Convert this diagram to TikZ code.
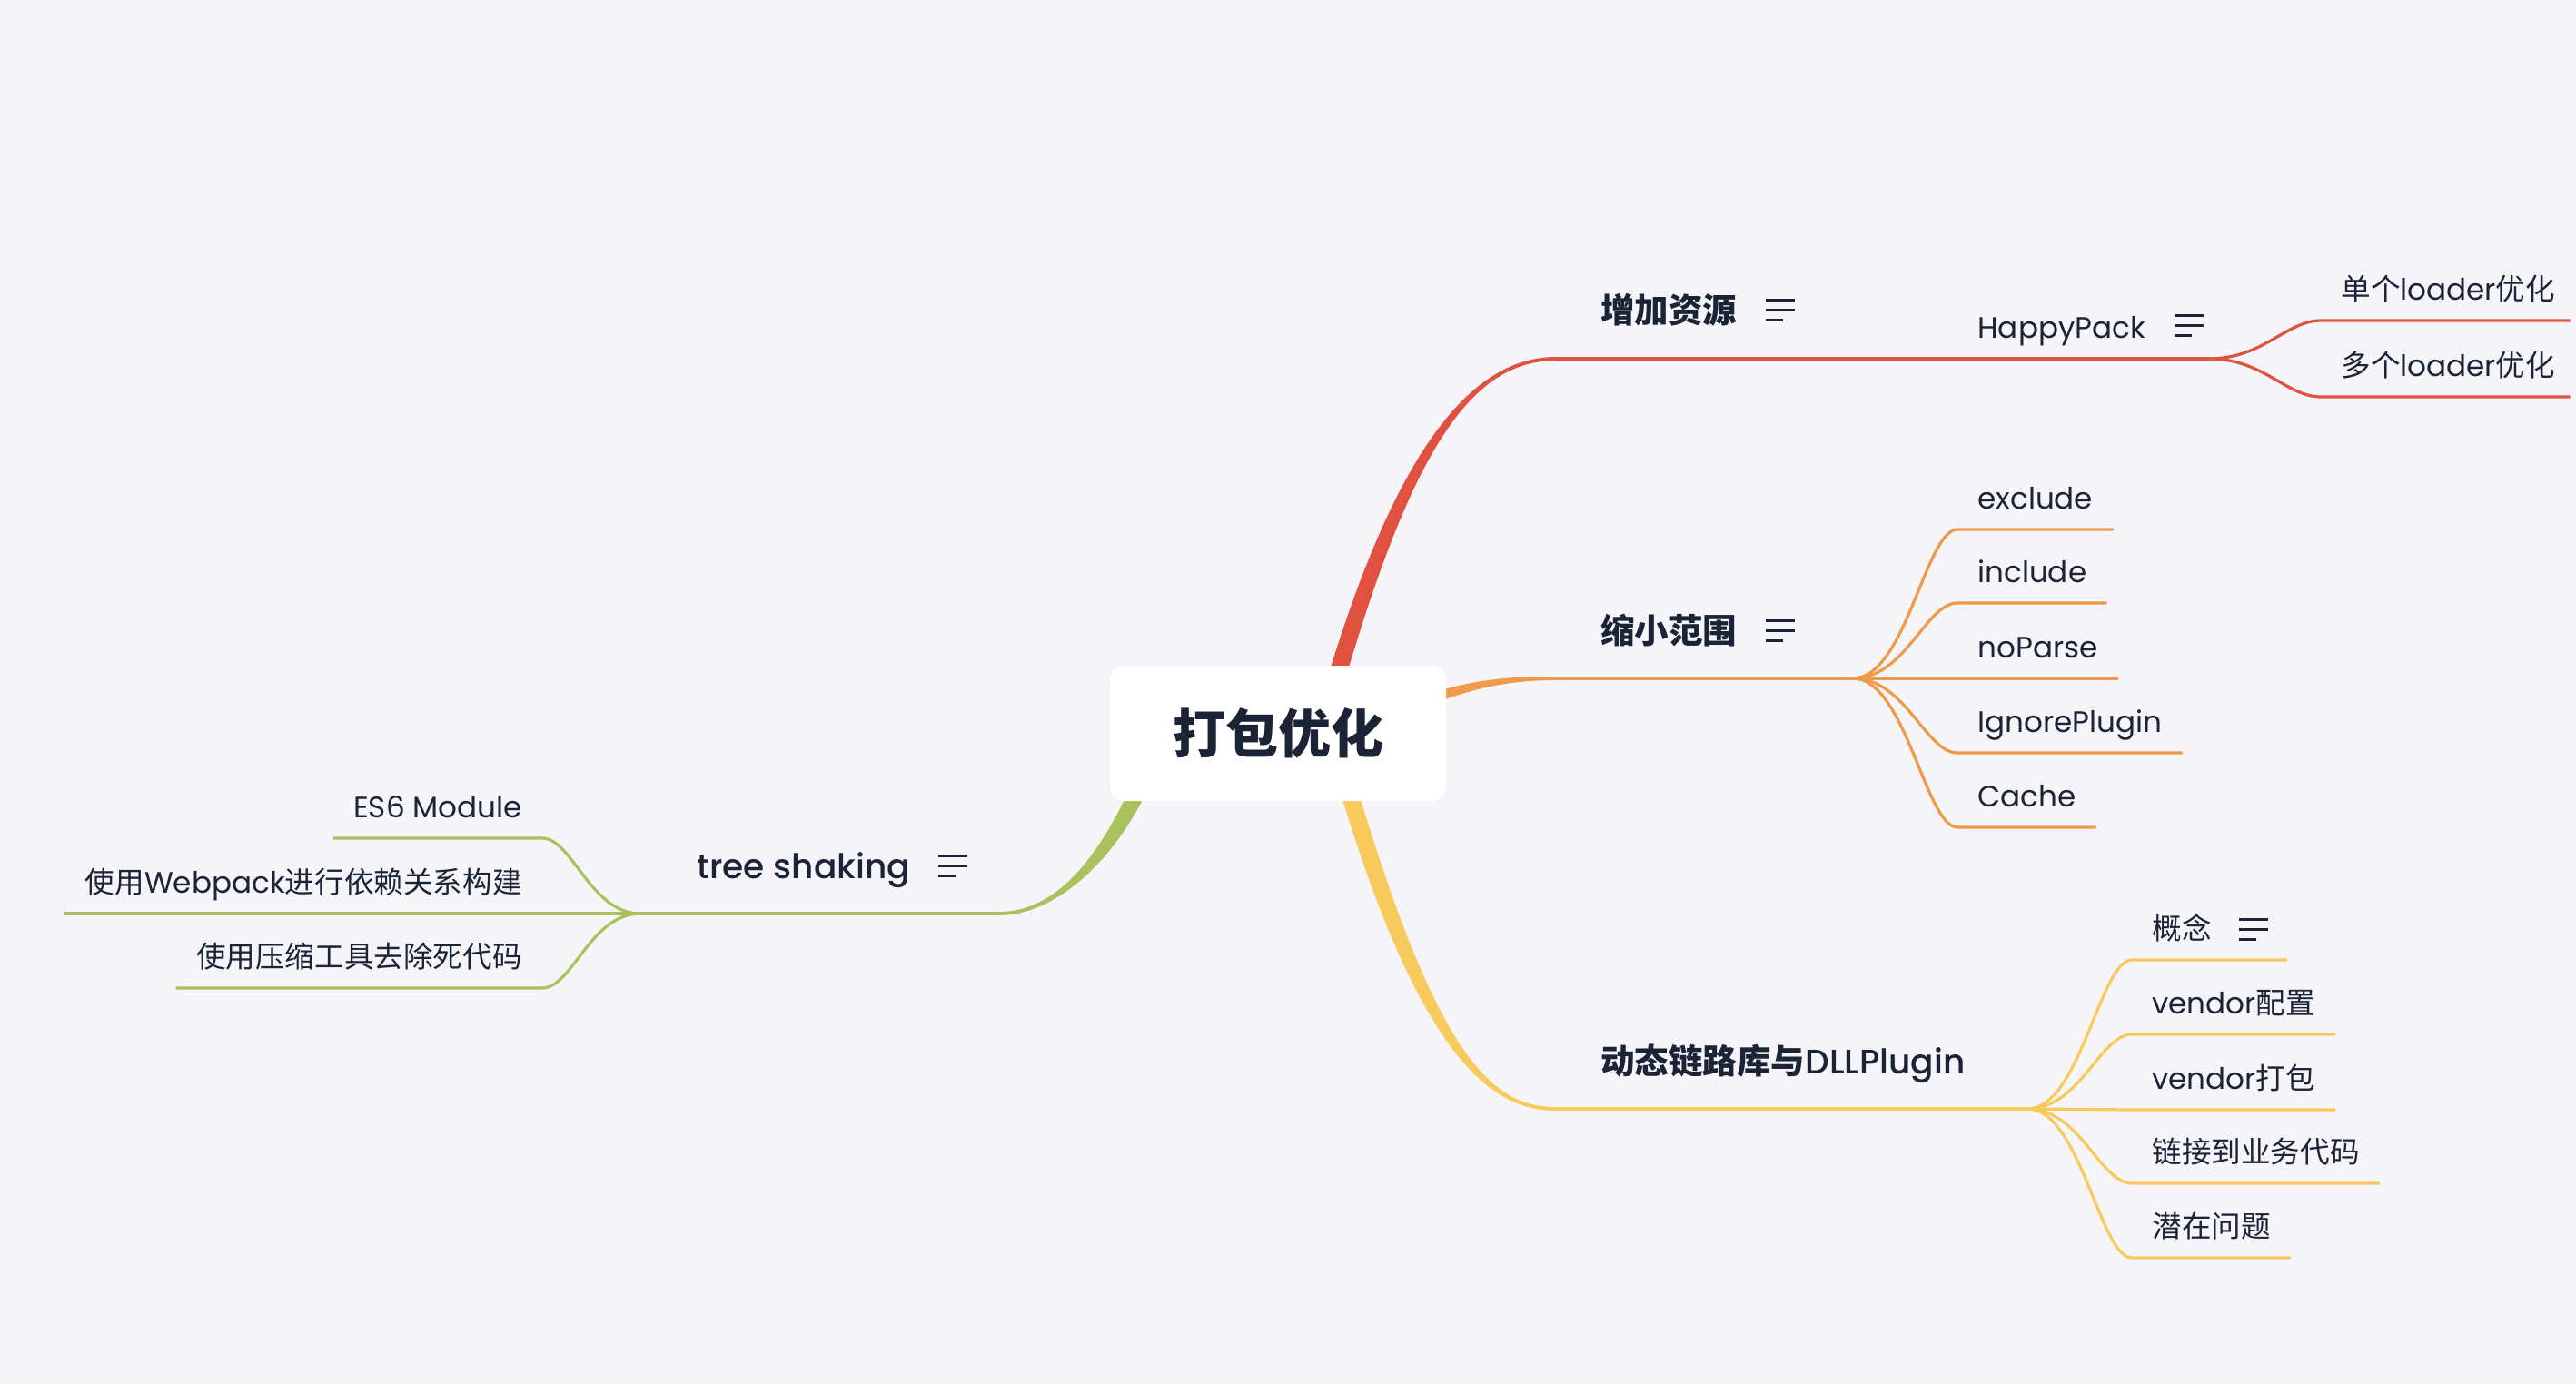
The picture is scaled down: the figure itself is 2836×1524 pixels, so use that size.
\documentclass[tikz,border=0pt]{standalone}
\usepackage{fontspec}
\setmainfont{Poppins}[BoldFont={Poppins Medium}]
\newfontfamily\cjkfont{Noto Sans CJK SC}
\newfontfamily\latfont{Poppins}[BoldFont={Poppins Medium}]
% switch to the CJK face for ideographs, back to Poppins for the rest
\newcount\cjkcode
\cjkcode="4E00
\loop \XeTeXcharclass\cjkcode=1 \advance\cjkcode by 1 \ifnum\cjkcode<"A000 \repeat
\XeTeXinterchartokenstate=1
\XeTeXinterchartoks 0 1 = {\cjkfont}
\XeTeXinterchartoks 4095 1 = {\cjkfont}
\XeTeXinterchartoks 1 0 = {\latfont}
\XeTeXinterchartoks 1 4095 = {\latfont}
\usepackage{tikz}
\usetikzlibrary{calc,backgrounds}
\pgfdeclarelayer{canvas}
\pgfsetlayers{canvas,background,main}
\definecolor{canvasgray}{HTML}{F5F5F9}
\definecolor{inkdark}{HTML}{1B2336}
\definecolor{brred}{HTML}{E0523F}
\definecolor{brorange}{HTML}{EE9A47}
\definecolor{bryellow}{HTML}{F7CA5B}
\definecolor{brgreen}{HTML}{A9C25D}

\tikzset{
  topic/.style={font=\fontsize{29pt}{34pt}\selectfont\bfseries, text=inkdark, fill=white,
    rounded corners=7.5pt, minimum width=185pt, minimum height=74.5pt},
  maintopic/.style={font=\fontsize{18.75pt}{22pt}\selectfont\bfseries, text=inkdark,
    inner sep=0pt, anchor=base west},
  midtopic/.style={font=\fontsize{16.3pt}{20pt}\selectfont, text=inkdark,
    inner sep=0pt, anchor=base west},
  leaf/.style={font=\fontsize{16.3pt}{20pt}\selectfont, text=inkdark, inner xsep=11pt,
    inner ysep=0pt, text height=12pt, text depth=11pt, anchor=south west},
  trunk/.style={line width=2pt},
  twig/.style={line width=1.6pt},
  noteicon/.pic={
    \draw[inkdark, line width=1.5pt] (0,0) -- (32,0) (0,11) -- (32,11) (0,22) -- (19,22);
  }
}

\begin{document}
\begin{tikzpicture}[x=0.5pt,y=-0.5pt]
  \useasboundingbox (0,0) rectangle (2836,1524);
  \begin{pgfonlayer}{canvas}
    \fill[canvasgray] (0,0) rectangle (2836,1524);
  \end{pgfonlayer}

  % central topic
  \node[topic,font=\fontsize{29pt}{34pt}\selectfont\cjkfont\bfseries] (root) at (1407,807.5) {打包优化};

  % joints where the tapered limbs turn flat
  \coordinate (redjoin) at (1713,395);
  \coordinate (orgjoin) at (1713,747);
  \coordinate (yelljoin) at (1713,1221);
  \coordinate (grnjoin) at (1100,1006);
  % split points of the sub branches
  \coordinate (hpsplit) at (2432,395);
  \coordinate (osplit) at (2040,747);
  \coordinate (ysplit) at (2232,1221);
  \coordinate (gsplit) at (705,1006);

  % main topics
  \node[maintopic] (addres) at ($(redjoin)+(49,-39)$) {增加资源};
  \node[maintopic] (narrow) at ($(orgjoin)+(49,-39)$) {缩小范围};
  \node[maintopic] (dll) at ($(yelljoin)+(49,-39)$) {动态链路库与DLLPlugin};
  \node[maintopic] (shake) at (767,967) {tree shaking};
  \node[midtopic] (happy) at (2177,372) {HappyPack};

  % note markers
  \pic at ([xshift=15.5pt,yshift=12.5pt]addres.base east) {noteicon};
  \pic at ([xshift=15.5pt,yshift=12.5pt]narrow.base east) {noteicon};
  \pic at ([xshift=15.5pt,yshift=12.5pt]shake.base east) {noteicon};
  \pic at ([xshift=16pt,yshift=12pt]happy.base east) {noteicon};

  % leaves
  \node[leaf] (single) at (2555,353) {单个loader优化};
  \node[leaf] (multi) at (2555,437) {多个loader优化};

  \node[leaf] (excl) at (2155,583) {exclude};
  \node[leaf] (incl) at (2155,664) {include};
  \node[leaf] (nopar) at (2155,747) {noParse};
  \node[leaf] (ignore) at (2155,829) {IgnorePlugin};
  \node[leaf] (cache) at (2155,911) {Cache};

  \node[leaf] (idea) at (2347,1057) {概念};
  \node[leaf] (vcfg) at (2347,1139) {vendor配置};
  \node[leaf] (vpack) at (2347,1222) {vendor打包};
  \node[leaf] (link) at (2347,1303) {链接到业务代码};
  \node[leaf] (risk) at (2347,1385) {潜在问题};
  \pic at ([xshift=4pt,yshift=11pt]idea.base east) {noteicon};
  \coordinate (ideaend) at ([xshift=30.5pt]idea.south east);

  \node[leaf,anchor=south east] (esm) at (597,923) {ES6 Module};
  \node[leaf,anchor=south east] (graph) at (597,1006) {使用Webpack进行依赖关系构建};
  \node[leaf,anchor=south east] (dead) at (597,1088) {使用压缩工具去除死代码};

  \begin{scope}[on background layer]
    % tapered limbs out of the central topic
    \fill[brred] ($(root.north)+(55,12)$) .. controls ($(root.north)+(131,-238)$) and ($(redjoin)+(-93,-2)$) .. ($(redjoin)+(0,-2)$)
      -- ($(redjoin)+(0,2)$) .. controls ($(redjoin)+(-93,2)$) and ($(root.north)+(149,-238)$) .. ($(root.north)+(75,12)$) -- cycle;
    \fill[brorange] ($(root.east)+(-32,-39)$) .. controls ($(root.east)+(28,-60)$) and ($(orgjoin)+(-53,-2)$) .. ($(orgjoin)+(0,-2)$)
      -- ($(orgjoin)+(0,2)$) .. controls ($(orgjoin)+(-53,2)$) and ($(root.east)+(28,-50)$) .. ($(root.east)+(-32,-26)$) -- cycle;
    \fill[bryellow] ($(root.south)+(68,-12)$) .. controls ($(root.south)+(158,288)$) and ($(yelljoin)+(-68,2)$) .. ($(yelljoin)+(0,2)$)
      -- ($(yelljoin)+(0,-2)$) .. controls ($(yelljoin)+(-68,-2)$) and ($(root.south)+(178,288)$) .. ($(root.south)+(88,-12)$) -- cycle;
    \fill[brgreen] ($(root.south)+(-164,-12)$) .. controls ($(root.south)+(-202,68)$) and ($(grnjoin)+(60,-2)$) .. ($(grnjoin)+(0,-2)$)
      -- ($(grnjoin)+(0,2)$) .. controls ($(grnjoin)+(60,2)$) and ($(root.south)+(-182,68)$) .. ($(root.south)+(-144,-12)$) -- cycle;

    % flat runs under the main topics
    \draw[trunk,brred] (redjoin) -- (hpsplit);
    \draw[trunk,brorange] (orgjoin) -- (osplit);
    \draw[trunk,bryellow] (yelljoin) -- (ysplit);
    \draw[trunk,brgreen] (grnjoin) -- (gsplit);

    % sub branches
    \draw[twig,brred] (hpsplit) .. controls +(60,0) and +(-38,0) .. (single.south west) -- ([xshift=-3pt]single.south east);
    \draw[twig,brred] (hpsplit) .. controls +(60,0) and +(-38,0) .. (multi.south west) -- ([xshift=-3pt]multi.south east);

    \draw[twig,brorange] (osplit) .. controls +(58,0) and +(-35,0) .. (excl.south west) -- (excl.south east);
    \draw[twig,brorange] (osplit) .. controls +(58,0) and +(-35,0) .. (incl.south west) -- (incl.south east);
    \draw[twig,brorange] (osplit) -- (nopar.south west) -- (nopar.south east);
    \draw[twig,brorange] (osplit) .. controls +(58,0) and +(-35,0) .. (ignore.south west) -- (ignore.south east);
    \draw[twig,brorange] (osplit) .. controls +(58,0) and +(-35,0) .. (cache.south west) -- (cache.south east);

    \draw[twig,bryellow] (ysplit) .. controls +(58,0) and +(-35,0) .. (idea.south west) -- (ideaend);
    \draw[twig,bryellow] (ysplit) .. controls +(58,0) and +(-35,0) .. (vcfg.south west) -- (vcfg.south east);
    \draw[twig,bryellow] (ysplit) -- (vpack.south west) -- (vpack.south east);
    \draw[twig,bryellow] (ysplit) .. controls +(58,0) and +(-35,0) .. (link.south west) -- (link.south east);
    \draw[twig,bryellow] (ysplit) .. controls +(58,0) and +(-35,0) .. (risk.south west) -- (risk.south east);

    \draw[twig,brgreen] (gsplit) .. controls +(-55,0) and +(33,0) .. (esm.south east) -- (esm.south west);
    \draw[twig,brgreen] (gsplit) -- (graph.south east) -- (graph.south west);
    \draw[twig,brgreen] (gsplit) .. controls +(-55,0) and +(33,0) .. (dead.south east) -- (dead.south west);
  \end{scope}
\end{tikzpicture}
\end{document}
